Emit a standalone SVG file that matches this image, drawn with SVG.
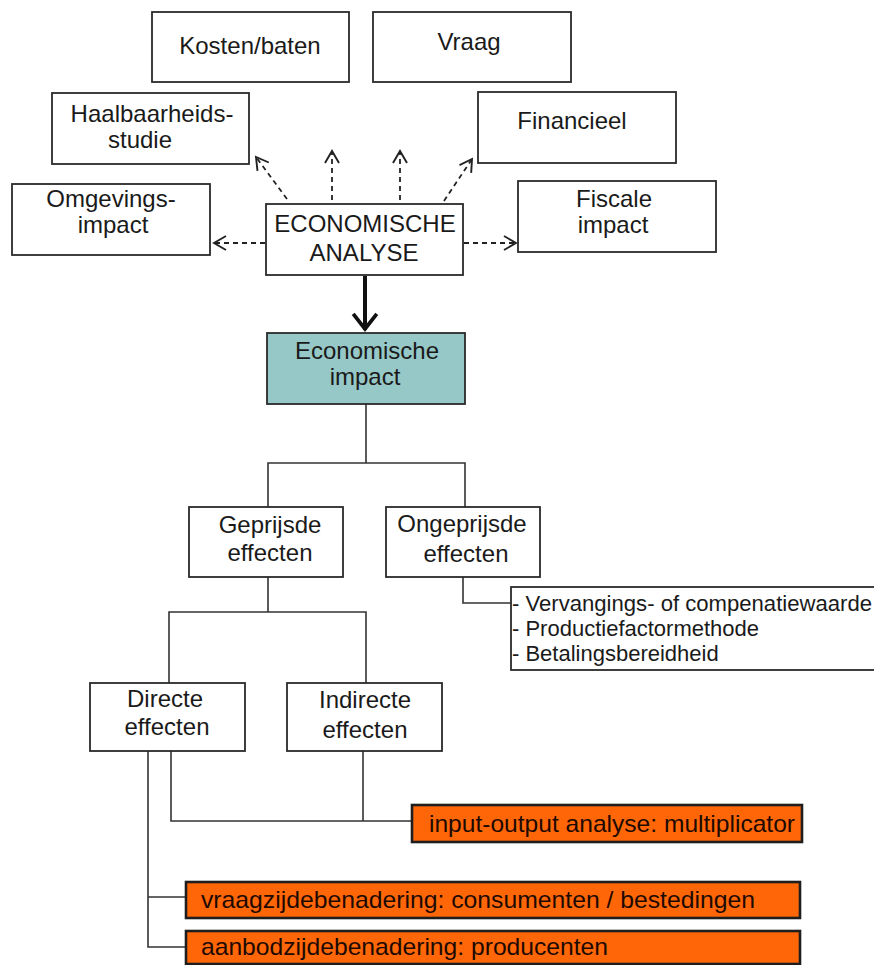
<svg xmlns="http://www.w3.org/2000/svg" width="874" height="965" viewBox="0 0 874 965">
<defs>
<style>
.box{fill:#fff;stroke:#2a2a2a;stroke-width:1.8}
.teal{fill:#96C8C8;stroke:#2a2a2a;stroke-width:1.8}
.orange{fill:#FF6608;stroke:#1e1e1e;stroke-width:2.6}
.t{font-family:"Liberation Sans",Arial,sans-serif;font-size:24px;fill:#1a1a1a;text-anchor:middle}
.ot{font-family:"Liberation Sans",Arial,sans-serif;font-size:24px;fill:#1e0a00}
.lt{font-family:"Liberation Sans",Arial,sans-serif;font-size:22px;fill:#1a1a1a}
.ln{fill:none;stroke:#333;stroke-width:1.6}
.dash{fill:none;stroke:#222;stroke-width:1.8;stroke-dasharray:5 4}
</style>
<marker id="open" markerUnits="userSpaceOnUse" markerWidth="20" markerHeight="20" refX="0" refY="0" viewBox="-14 -10 16 20" orient="auto" overflow="visible">
<path d="M-12,-7 L0,0 L-12,7" fill="none" stroke="#222" stroke-width="1.9" stroke-dasharray="none"/>
</marker>
<marker id="bold" markerUnits="userSpaceOnUse" markerWidth="30" markerHeight="30" refX="0" refY="0" viewBox="-18 -14 20 28" orient="auto" overflow="visible">
<path d="M-15,-11 L-1,0 L-15,11" fill="none" stroke="#111" stroke-width="3.5"/>
</marker>
</defs>
<rect width="874" height="965" fill="#fff"/>

<g id="connectors">
<path class="dash" d="M265,243 H214" marker-end="url(#open)"/>
<path class="dash" d="M464,243 H516" marker-end="url(#open)"/>
<path class="dash" d="M287,199 L256,157" marker-end="url(#open)"/>
<path class="dash" d="M332,200 V151" marker-end="url(#open)"/>
<path class="dash" d="M400,200 V151" marker-end="url(#open)"/>
<path class="dash" d="M444,201 L472,159" marker-end="url(#open)"/>
<path d="M365,276 V330" fill="none" stroke="#111" stroke-width="4" marker-end="url(#bold)"/>
<path class="ln" d="M366,404 V463 M268,507 V463 H465 V507"/>
<path class="ln" d="M268,577 V612 M169,683 V612 H366 V683"/>
<path class="ln" d="M463,577 V603 H511"/>
<path class="ln" d="M148,751 V947 H186 M148,897 H186"/>
<path class="ln" d="M171,751 V821 H412 M363,751 V821"/>
</g>

<g id="kosten"><rect class="box" x="152" y="12" width="197" height="70"/><text class="t" x="250" y="54">Kosten/baten</text></g>
<g id="vraag"><rect class="box" x="373" y="12" width="198" height="70"/><text class="t" x="469" y="50">Vraag</text></g>
<g id="haalbaarheid"><rect class="box" x="52" y="93" width="197" height="71"/><text class="t" x="152" y="122">Haalbaarheids-</text><text class="t" x="140" y="148">studie</text></g>
<g id="financieel"><rect class="box" x="478" y="92" width="198" height="71"/><text class="t" x="572" y="129">Financieel</text></g>
<g id="omgeving"><rect class="box" x="12" y="184" width="198" height="71"/><text class="t" x="111" y="207">Omgevings-</text><text class="t" x="113" y="233">impact</text></g>
<g id="fiscaal"><rect class="box" x="518" y="181" width="198" height="71"/><text class="t" x="614" y="207">Fiscale</text><text class="t" x="613" y="233">impact</text></g>
<g id="analyse"><rect class="box" x="266" y="204" width="197" height="71"/><text class="t" x="365" y="232">ECONOMISCHE</text><text class="t" x="364" y="261">ANALYSE</text></g>
<g id="impact"><rect class="teal" x="267" y="333" width="198" height="71"/><text class="t" x="367" y="359">Economische</text><text class="t" x="365" y="385">impact</text></g>
<g id="geprijsd"><rect class="box" x="189" y="507" width="154" height="70"/><text class="t" x="270" y="533">Geprijsde</text><text class="t" x="270" y="561">effecten</text></g>
<g id="ongeprijsd"><rect class="box" x="386" y="507" width="154" height="70"/><text class="t" x="462" y="532">Ongeprijsde</text><text class="t" x="466" y="562">effecten</text></g>
<g id="methodes"><rect class="box" x="511" y="587" width="372" height="83"/>
<text class="lt" x="512" y="611" textLength="360" lengthAdjust="spacingAndGlyphs">- Vervangings- of compenatiewaarde</text>
<text class="lt" x="512" y="636">- Productiefactormethode</text>
<text class="lt" x="512" y="661">- Betalingsbereidheid</text></g>
<g id="direct"><rect class="box" x="90" y="683" width="155" height="68"/><text class="t" x="165" y="707">Directe</text><text class="t" x="167" y="735">effecten</text></g>
<g id="indirect"><rect class="box" x="287" y="683" width="155" height="68"/><text class="t" x="365" y="708">Indirecte</text><text class="t" x="365" y="738">effecten</text></g>
<g id="inputoutput"><rect class="orange" x="412" y="805" width="390" height="37"/><text class="ot" x="429" y="832" textLength="366" lengthAdjust="spacingAndGlyphs">input-output analyse: multiplicator</text></g>
<g id="vraagzijde"><rect class="orange" x="186" y="882" width="614" height="36"/><text class="ot" x="201" y="908" textLength="554" lengthAdjust="spacingAndGlyphs">vraagzijdebenadering: consumenten / bestedingen</text></g>
<g id="aanbodzijde"><rect class="orange" x="186" y="931" width="614" height="33"/><text class="ot" x="201" y="955" textLength="407" lengthAdjust="spacingAndGlyphs">aanbodzijdebenadering: producenten</text></g>
</svg>
